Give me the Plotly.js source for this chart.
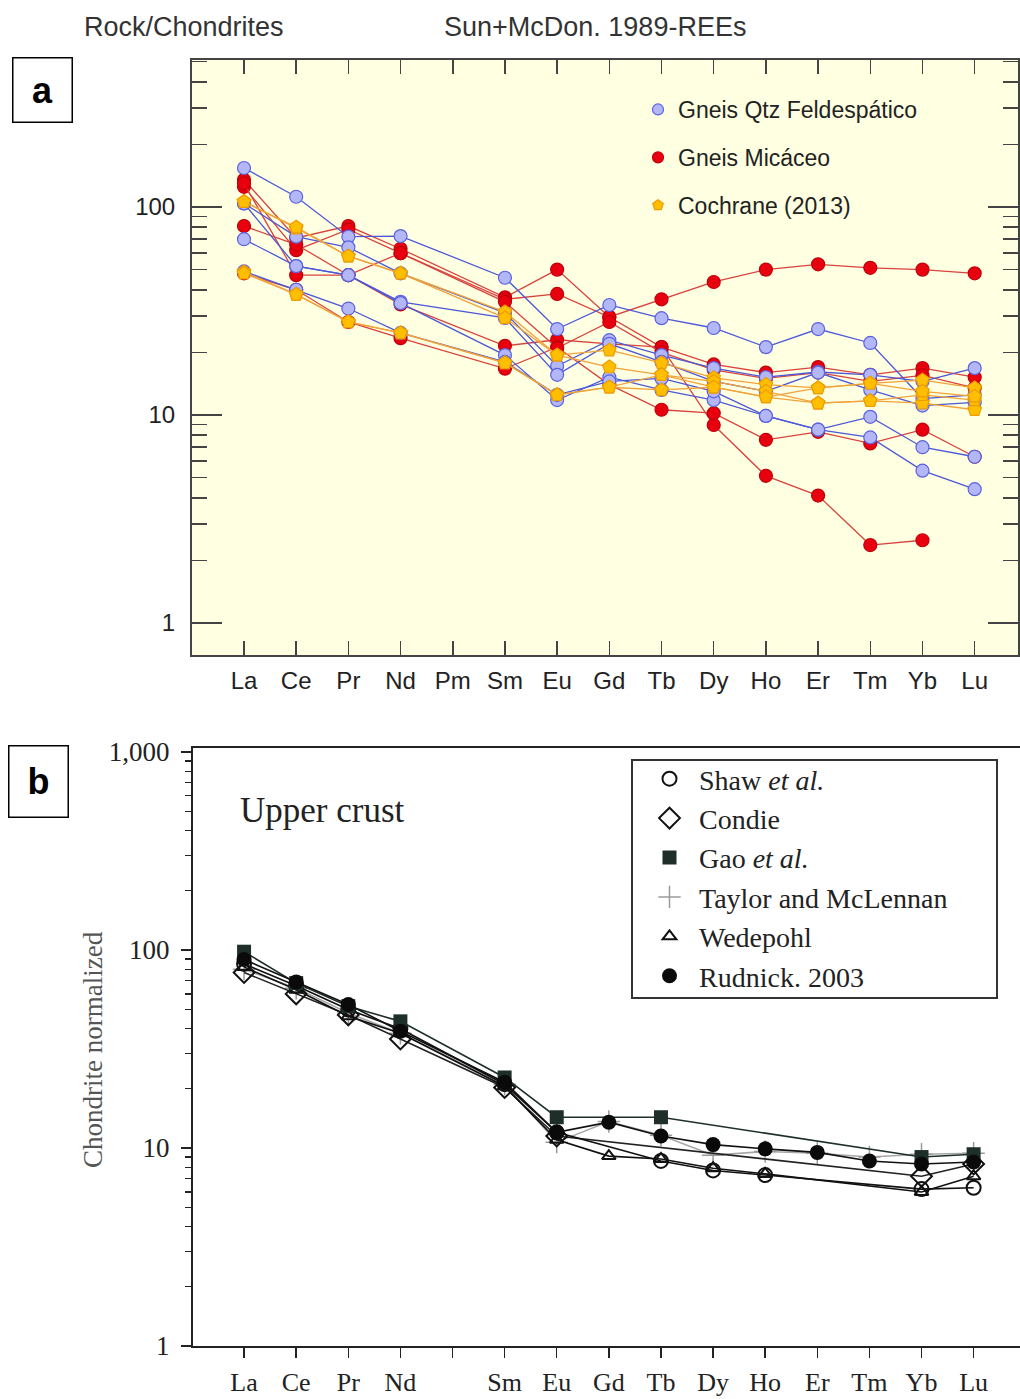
<!DOCTYPE html>
<html>
<head>
<meta charset="utf-8">
<script src="https://cdn.plot.ly/plotly-3.0.1.min.js"></script>
<style>html,body{margin:0;padding:0;background:#fff;}#chart{width:1020px;height:1399px;}</style>
</head>
<body>
<div id="chart"></div>
<script>
// ---------- categories ----------
const elements = ['La','Ce','Pr','Nd','Pm','Sm','Eu','Gd','Tb','Dy','Ho','Er','Tm','Yb','Lu'];
const tickLabelsA = ['La','Ce','Pr','Nd','Pm','Sm','Eu','Gd','Tb','Dy','Ho','Er','Tm','Yb','Lu'];
const tickLabelsB = ['La','Ce','Pr','Nd','','Sm','Eu','Gd','Tb','Dy','Ho','Er','Tm','Yb','Lu'];

// ---------- panel a : Gneis Qtz Feldespático (blue) ----------
const qtz1 = [154,112,72,72.5,null,45.7,25.9,33.8,29.2,26.2,21.2,25.9,22.2,12,12.5];
const qtz2 = [104,72,64,48,null,31,17.2,22.9,19.4,16.8,15.2,16.1,15.6,14.5,16.8];
const qtz3 = [70,52,47,35,null,29.3,15.6,22,18,14.5,13,16,13.2,11.1,11.5];
const qtz4 = [104,52,47,34.5,null,19.4,11.8,15.2,13.2,11.8,9.9,8.5,7.8,5.4,4.4];
const qtz5 = [49,40,32.5,24.8,null,18,12.5,14.5,15,13,9.9,8.5,9.8,7.0,6.3];

// ---------- panel a : Gneis Micáceo (red) ----------
const mic1 = [135,71,81,63,null,36.8,50,29.6,21.2,17.5,16,17,15.6,16.8,15.2];
const mic2 = [125,62,78,60,null,36,38.2,29.6,36,43.6,50,53,51,50,48];
const mic3 = [81,66,47,34,null,21.5,23,22,21.2,8.95,5.1,4.1,2.37,2.5,null];
const mic4 = [48,40,28,23.4,null,16.7,21.2,14,10.6,10.2,7.6,8.3,7.3,8.5,6.3];
const mic5 = [130,47,47,60,null,35,21,28,20,16.5,15,16,14.5,15.5,13.5];

// ---------- panel a : Cochrane (2013) (orange) ----------
const coch1 = [106,79,58,48,null,31.3,19.4,20.5,17.8,15.1,14,13.5,14.2,14.7,13.5];
const coch2 = [48.7,38,28,24.8,null,17.8,12.5,13.6,15.6,13.6,12.2,11.4,11.7,11.4,10.6];
const coch3 = [106,80,58,48,null,29.3,19.4,17,15.6,14.5,13,11.4,11.7,12.5,11.8];
const coch4 = [48,38,28,24.8,null,17.8,12.5,13.6,13.2,13.6,12.2,13.5,14.2,13,12.3];

// ---------- panel b : upper crust ----------
const shaw     = [85,66,50,40,null,21,12,null,8.6,7.7,7.3,null,null,6.2,6.3];
const condie   = [77,60,47,35.5,null,20.2,11.5,null,null,null,null,null,null,7.2,8.3];
const gao      = [98,68,52,43.6,null,22.7,14.3,null,14.3,null,null,null,null,9,9.3];
const taylor   = [80,64,48,38,null,21,10.7,13.6,11.6,9.2,9.6,9.4,9.0,9.3,9.4];
const wedepohl = [82,63,46.3,38,null,20.5,11,9.1,8.8,7.9,7.4,null,null,6.0,7.2];
const rudnick  = [89.5,69,53,38.9,null,21.5,12.0,13.5,11.5,10.4,9.9,9.5,8.6,8.3,8.5];

const W = 1020, H = 1399;
const px = v => v / W;
const py = v => 1 - v / H;

const BLUE = {fill:'#b3b7f7', edge:'#5a62e0', line:'#4c58d8'};
const RED  = {fill:'#e8000e', edge:'#c2000c', line:'#d9433f'};
const ORNG = {fill:'#ffbf00', edge:'#ee9c00', line:'#f2a23a'};

function seriesA(y, c, symbol){
  return {x: elements, y: y, xaxis:'x', yaxis:'y', type:'scatter', mode:'lines+markers',
    connectgaps:true, showlegend:false, hoverinfo:'skip',
    line:{color:c.line, width:1.3},
    marker:{symbol:symbol, size:symbol==='pentagon'?14:13, color:c.fill, line:{color:c.edge, width:1.2}}};
}
function legendA(name, c, symbol){
  return {x:[null], y:[null], xaxis:'x', yaxis:'y', type:'scatter', mode:'markers', name:name,
    legend:'legend', legendgroup:name, showlegend:true,
    marker:{symbol:symbol, size:11, color:c.fill, line:{color:c.edge, width:1.2}}};
}
function seriesB(y, name, mk, lineColor){
  return {x: elements, y: y, xaxis:'x2', yaxis:'y2', type:'scatter', mode:'lines+markers',
    connectgaps:true, showlegend:false, hoverinfo:'skip', name:name,
    line:{color:lineColor, width:1.6}, marker:mk};
}
function legendB(name, mk){
  return {x:[null], y:[null], xaxis:'x2', yaxis:'y2', type:'scatter', mode:'markers', name:name,
    legend:'legend2', legendgroup:'b'+name, showlegend:true, marker:mk};
}

const mkShaw = {symbol:'circle-open', size:14, color:'#111', line:{width:2, color:'#111'}};
const mkCondie = {symbol:'diamond-open', size:16, color:'#111', line:{width:2, color:'#111'}};
const mkGao = {symbol:'square', size:14, color:'#1e2f2a', line:{width:0}};
const mkTaylor = {symbol:'cross-thin-open', size:16, color:'#9a9a9a', line:{width:1.5, color:'#9a9a9a'}};
const mkWede = {symbol:'triangle-up-open', size:12, color:'#111', line:{width:2, color:'#111'}};
const mkRud = {symbol:'circle', size:15, color:'#0a0a0a', line:{width:0}};

const traces = [
  seriesA(mic1, RED, 'circle'), seriesA(mic2, RED, 'circle'), seriesA(mic3, RED, 'circle'),
  seriesA(mic4, RED, 'circle'), seriesA(mic5, RED, 'circle'),
  seriesA(qtz1, BLUE, 'circle'), seriesA(qtz2, BLUE, 'circle'), seriesA(qtz3, BLUE, 'circle'),
  seriesA(qtz4, BLUE, 'circle'), seriesA(qtz5, BLUE, 'circle'),
  seriesA(coch1, ORNG, 'pentagon'), seriesA(coch2, ORNG, 'pentagon'),
  seriesA(coch3, ORNG, 'pentagon'), seriesA(coch4, ORNG, 'pentagon'),
  legendA('Gneis Qtz Feldespático', BLUE, 'circle'),
  legendA('Gneis Micáceo', RED, 'circle'),
  legendA('Cochrane (2013)', ORNG, 'pentagon'),
  seriesB(taylor, 'Taylor and McLennan', mkTaylor, '#a8a8a8'),
  seriesB(condie, 'Condie', mkCondie, '#222'),
  seriesB(wedepohl, 'Wedepohl', mkWede, '#111'),
  seriesB(shaw, 'Shaw et al.', mkShaw, '#111'),
  seriesB(gao, 'Gao et al.', mkGao, '#1e2f2a'),
  seriesB(rudnick, 'Rudnick. 2003', mkRud, '#111'),
  legendB('Shaw <i>et al.</i>', mkShaw),
  legendB('Condie', mkCondie),
  legendB('Gao <i>et al.</i>', mkGao),
  legendB('Taylor and McLennan', mkTaylor),
  legendB('Wedepohl', mkWede),
  legendB('Rudnick. 2003', mkRud)
];

const minorVals = [];
[1,10,100].forEach(d => { for (let k=2;k<=9;k++) minorVals.push(k*d); });

const sans = 'Liberation Sans, Arial, sans-serif';
const serif = 'Liberation Serif, Times New Roman, serif';

const layout = {
  width: W, height: H,
  margin:{l:0, r:0, t:0, b:0, pad:0},
  paper_bgcolor:'#ffffff', plot_bgcolor:'rgba(0,0,0,0)',
  showlegend:true,
  xaxis:{domain:[px(192), px(1018)], anchor:'y', type:'category', categoryorder:'array', categoryarray:elements,
    range:[-0.996, 14.83], showline:true, linecolor:'#444', linewidth:2, mirror:'ticks',
    ticks:'inside', ticklen:14, tickwidth:1.5, tickcolor:'#444',
    tickvals:elements, ticktext:tickLabelsA, ticklabelstandoff:3,
    tickfont:{family:sans, size:24, color:'#222'}, showgrid:false, zeroline:false, fixedrange:true},
  yaxis:{domain:[py(655), py(60)], anchor:'x', type:'log', range:[-0.1538, 2.7067],
    showline:true, linecolor:'#444', linewidth:2, mirror:'ticks',
    ticks:'inside', ticklen:30, tickwidth:1.5, tickcolor:'#444',
    tickvals:[1,10,100], ticktext:['1','10','100'], ticklabelstandoff:10,
    minor:{ticks:'inside', ticklen:15, tickwidth:1.5, tickcolor:'#444', tickvals:minorVals, showgrid:false},
    tickfont:{family:sans, size:24, color:'#222'}, showgrid:false, zeroline:false, fixedrange:true},
  xaxis2:{domain:[px(193), 1], anchor:'y2', type:'category', categoryorder:'array', categoryarray:elements,
    range:[-0.98, 14.89], showline:true, linecolor:'#222', linewidth:2, mirror:true,
    ticks:'outside', ticklen:10, tickwidth:1.5, tickcolor:'#222',
    tickvals:elements, ticktext:tickLabelsB, ticklabelstandoff:2,
    tickfont:{family:serif, size:26, color:'#222'}, showgrid:false, zeroline:false, fixedrange:true},
  yaxis2:{domain:[py(1346), py(748)], anchor:'x2', type:'log', range:[0, 3.02],
    showline:true, linecolor:'#222', linewidth:2,
    ticks:'outside', ticklen:10, tickwidth:1.5, tickcolor:'#222',
    tickvals:[1,10,100,1000], ticktext:['1','10','100','1,000'], ticklabelstandoff:6,
    minor:{ticks:'outside', ticklen:6, tickwidth:1.2, tickcolor:'#222', tickvals:minorVals, showgrid:false},
    tickfont:{family:serif, size:27, color:'#222'}, showgrid:false, zeroline:false, fixedrange:true},
  legend:{x:px(638), y:py(88), xanchor:'left', yanchor:'top', bgcolor:'rgba(0,0,0,0)', borderwidth:0,
    font:{family:sans, size:23, color:'#222'}, traceorder:'grouped', tracegroupgap:15, itemclick:false},
  legend2:{x:px(640), y:py(754), xanchor:'left', yanchor:'top', bgcolor:'rgba(0,0,0,0)', borderwidth:0,
    font:{family:serif, size:28, color:'#222'}, traceorder:'grouped', tracegroupgap:0, itemwidth:49, itemclick:false},
  shapes:[
    {type:'rect', xref:'x domain', yref:'y domain', x0:0, x1:1, y0:0, y1:1, layer:'below',
     fillcolor:'#ffffe1', line:{width:0}},
    {type:'rect', xref:'paper', yref:'paper', x0:px(632), x1:px(997), y0:py(998), y1:py(760), layer:'above',
     fillcolor:'#ffffff', line:{color:'#333', width:2}}
  ],
  annotations:[
    {text:'Rock/Chondrites', xref:'paper', yref:'paper', x:px(82), y:py(27), xanchor:'left', yanchor:'middle',
     showarrow:false, font:{family:sans, size:27, color:'#333'}},
    {text:'Sun+McDon. 1989-REEs', xref:'paper', yref:'paper', x:px(595), y:py(27), xanchor:'center', yanchor:'middle',
     showarrow:false, font:{family:sans, size:27, color:'#333'}},
    {text:'<b>a</b>', xref:'paper', yref:'paper', x:px(42), y:py(90), xanchor:'center', yanchor:'middle',
     width:56, height:61, bordercolor:'#000', borderwidth:1.5, showarrow:false,
     font:{family:sans, size:36, color:'#000'}},
    {text:'<b>b</b>', xref:'paper', yref:'paper', x:px(38), y:py(781), xanchor:'center', yanchor:'middle',
     width:56, height:68, bordercolor:'#000', borderwidth:1.5, showarrow:false,
     font:{family:sans, size:36, color:'#000'}},
    {text:'Upper crust', xref:'paper', yref:'paper', x:px(238), y:py(810), xanchor:'left', yanchor:'middle',
     showarrow:false, font:{family:serif, size:35, color:'#222'}},
    {text:'Chondrite normalized', xref:'paper', yref:'paper', x:px(93), y:py(1050), xanchor:'center', yanchor:'middle',
     textangle:-90, showarrow:false, font:{family:serif, size:27, color:'#555'}}
  ]
};

Plotly.newPlot('chart', traces, layout, {staticPlot:true, displayModeBar:false});
</script>
</body>
</html>
